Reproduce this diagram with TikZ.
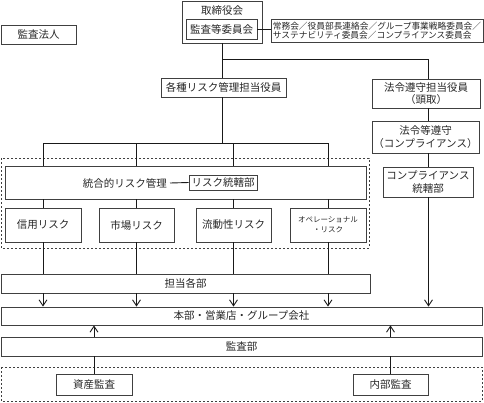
\documentclass[tikz,border=0pt]{standalone}
\usepackage{fontspec}
\newfontfamily\jpfont{Noto Sans CJK JP}
\usetikzlibrary{arrows.meta}
\begin{document}
\begin{tikzpicture}[x=1pt,y=-1pt,
  every node/.style={font=\jpfont\fontsize{10.5}{12.2}\selectfont, text=black!85},
  box/.style={draw=black!75, line width=0.8pt, inner sep=0pt, align=center},
  dbox/.style={draw=black!75, line width=0.8pt, dash pattern=on 2pt off 2pt},
  ln/.style={draw=black!90, line width=0.9pt},
  arr/.style={ln, -{Straight Barb[length=6pt,width=8pt,line width=0.9pt]}},
  small/.style={font=\jpfont\fontsize{8.7}{9.3}\selectfont},
  tiny/.style={font=\jpfont\fontsize{7.5}{10}\selectfont}
]
\useasboundingbox (0,0) rectangle (484,402);
% dashed groups
\draw[dbox] (1,158) rectangle (369,248);
\draw[dbox] (1,367) rectangle (482,401);

% top
\node[box, minimum width=75pt, minimum height=19pt] (kansa) at (38.5,34.5) {監査法人};
\node[box, minimum width=80pt, minimum height=42pt] (tori) at (222,22) {};
\node (toriT) at (222,10.5) {取締役会};
\node[box, minimum width=71pt, minimum height=20pt] (kansatou) at (221.5,29) {監査等委員会};
\node[box, small, minimum width=212pt, minimum height=23pt, align=left] (comm) at (377,30.5) {常務会／役員部長連絡会／グループ事業戦略委員会／\\サステナビリティ委員会／コンプライアンス委員会};

\node[box, minimum width=125pt, minimum height=19pt] (kakushu) at (223.5,87.5) {各種リスク管理担当役員};
\node[box, minimum width=108pt, minimum height=29pt] (hourei) at (426,93.5) {法令遵守担当役員\\（頭取）};
\node[box, minimum width=107pt, minimum height=32pt] (houreitou) at (425.5,137) {法令等遵守\\（コンプライアンス）};
\node[box, minimum width=90pt, minimum height=30pt] (compbu) at (428,182) {コンプライアンス\\統轄部};

% integrated risk
\node[box, minimum width=361pt, minimum height=33pt] (tougou) at (185.5,182.5) {};
\node[anchor=east, inner sep=0pt] (tougouT) at (167,183) {統合的リスク管理};
\node[box, minimum width=68pt, minimum height=15pt] (rtk) at (223,182.5) {リスク統轄部};

\node[box, minimum width=76pt, minimum height=34pt] (shinyou) at (43,225) {信用リスク};
\node[box, minimum width=75pt, minimum height=34pt] (shijou) at (136.5,225) {市場リスク};
\node[box, minimum width=75pt, minimum height=34pt] (ryudou) at (233.5,225) {流動性リスク};
\node[box, tiny, minimum width=76pt, minimum height=34pt] (ope) at (328,225) {オペレーショナル\\・リスク};

\node[box, minimum width=369pt, minimum height=19pt] (tantou) at (185.5,283.5) {担当各部};
\node[box, minimum width=481pt, minimum height=18pt] (honbu) at (241.5,316) {本部・営業店・グループ会社};
\node[box, minimum width=481pt, minimum height=19pt] (kansabu) at (241.5,346.5) {監査部};
\node[box, minimum width=76pt, minimum height=21pt] (shisan) at (94,384.5) {資産監査};
\node[box, minimum width=75pt, minimum height=21pt] (naibu) at (390.5,384.5) {内部監査};

% connectors top
\coordinate (br) at (222,59);
\coordinate (brR) at (428.5,59);
\draw[ln] (tori.south -| br) -- (kakushu.north -| br);
\draw[ln] (br) -- (brR) -- (hourei.north -| brR);
\draw[ln] (kansatou.east) -- (kansatou.east -| comm.west);
\draw[ln] (tougouT.east) ++(3,0) -- (rtk.west);

% risk tree
\coordinate (h1) at (43,143);
\coordinate (h4) at (328,143);
\draw[ln] (kakushu.south -| br) -- (br |- h1);
\draw[ln] (h1) -- (h4);
\foreach \n in {shinyou, shijou, ryudou, ope}{
  \draw[ln] (h1 -| \n) -- (tougou.north -| \n);
  \draw[ln] (tougou.south -| \n) -- (\n.north);
  \draw[ln] (\n.south) -- (tantou.north -| \n);
  \draw[arr] (tantou.south -| \n) -- (honbu.north -| \n);
}

% compliance chain
\draw[ln] (hourei.south -| brR) -- (houreitou.north -| brR);
\draw[ln] (houreitou.south -| brR) -- (compbu.north -| brR);
\draw[arr] (compbu.south -| brR) -- (honbu.north -| brR);

% audit
\foreach \n in {shisan, naibu}{
  \draw[ln] (\n.north) -- (kansabu.south -| \n);
  \draw[arr] (kansabu.north -| \n) -- (honbu.south -| \n);
}
\end{tikzpicture}
\end{document}
